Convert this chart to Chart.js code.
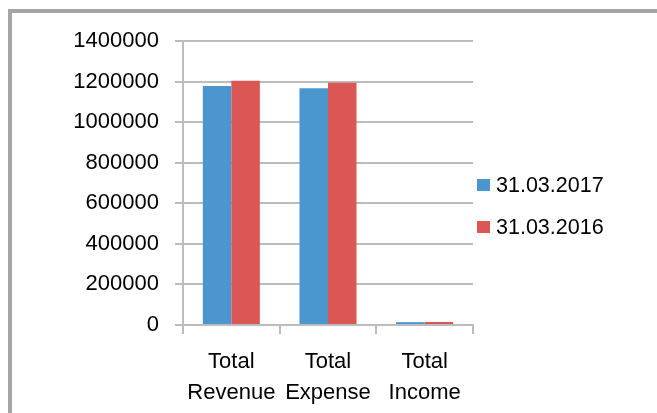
<!DOCTYPE html>
<html>
<head>
<meta charset="utf-8">
<script src="https://cdn.jsdelivr.net/npm/chart.js@4"></script>
<style>
  html, body { margin: 0; padding: 0; background: #ffffff; overflow: hidden; }
  #wrap { position: relative; width: 657px; height: 413px; }
  #frame { position: absolute; left: 8px; top: 9px; width: 700px; height: 500px;
           border-left: 4px solid #a6a6a6; border-top: 4px solid #a6a6a6; }
  #c { position: absolute; left: 0; top: 0; }
</style>
</head>
<body>
<div id="wrap">
  <div id="frame"></div>
  <canvas id="c" width="657" height="413"></canvas>
</div>
<script>
const categories = [['Total', 'Revenue'], ['Total', 'Expense'], ['Total', 'Income']];
const seriesLabels = ['31.03.2017', '31.03.2016'];
const values2017 = [1178000, 1167000, 14000];
const values2016 = [1204000, 1194000, 15000];
const yMin = 0;
const yMax = 1400000;
const yStep = 200000;

const FONT = "'Liberation Sans', Arial, sans-serif";
const gridColor = '#bcbcbc';

const sideLegend = {
  id: 'sideLegend',
  afterDraw(chart) {
    const ctx = chart.ctx;
    const area = chart.chartArea;
    ctx.save();
    ctx.font = '21.5px ' + FONT;
    ctx.textBaseline = 'middle';
    ctx.textAlign = 'left';
    chart.data.datasets.forEach((ds, i) => {
      const cy = 185 + i * 42;
      const x = area.right + 4;
      ctx.fillStyle = ds.backgroundColor;
      ctx.fillRect(x, cy - 6, 13, 12);
      ctx.fillStyle = '#000000';
      ctx.fillText(ds.label, x + 19, cy + 1);
    });
    ctx.restore();
  }
};

new Chart(document.getElementById('c'), {
  type: 'bar',
  data: {
    labels: categories,
    datasets: [
      { label: seriesLabels[0], data: values2017, backgroundColor: '#4b96cf' },
      { label: seriesLabels[1], data: values2016, backgroundColor: '#dc5753' }
    ]
  },
  options: {
    responsive: false,
    animation: false,
    devicePixelRatio: 1,
    layout: { padding: { left: 73, right: 184, top: 41, bottom: 4 } },
    plugins: {
      legend: { display: false },
      tooltip: { enabled: false }
    },
    datasets: { bar: { categoryPercentage: 0.59, barPercentage: 1.0 } },
    scales: {
      x: {
        offset: true,
        grid: { display: true, drawOnChartArea: false, drawTicks: true, tickLength: 9, offset: true, color: gridColor, lineWidth: 2 },
        border: { display: true, color: gridColor, width: 2 },
        ticks: { color: '#000000', padding: 13, font: { family: FONT, size: 22, lineHeight: 1.4 }, maxRotation: 0, autoSkip: false },
        afterFit(scale) { scale.height = 84; }
      },
      y: {
        min: yMin,
        max: yMax,
        grid: { color: gridColor, lineWidth: 2, tickLength: 8, drawTicks: true },
        border: { display: true, color: gridColor, width: 2 },
        ticks: {
          stepSize: yStep,
          color: '#000000',
          padding: 16,
          font: { family: FONT, size: 22 },
          callback: (v) => String(v)
        },
        afterFit(scale) { scale.width = 110; }
      }
    }
  },
  plugins: [sideLegend]
});
</script>
</body>
</html>
